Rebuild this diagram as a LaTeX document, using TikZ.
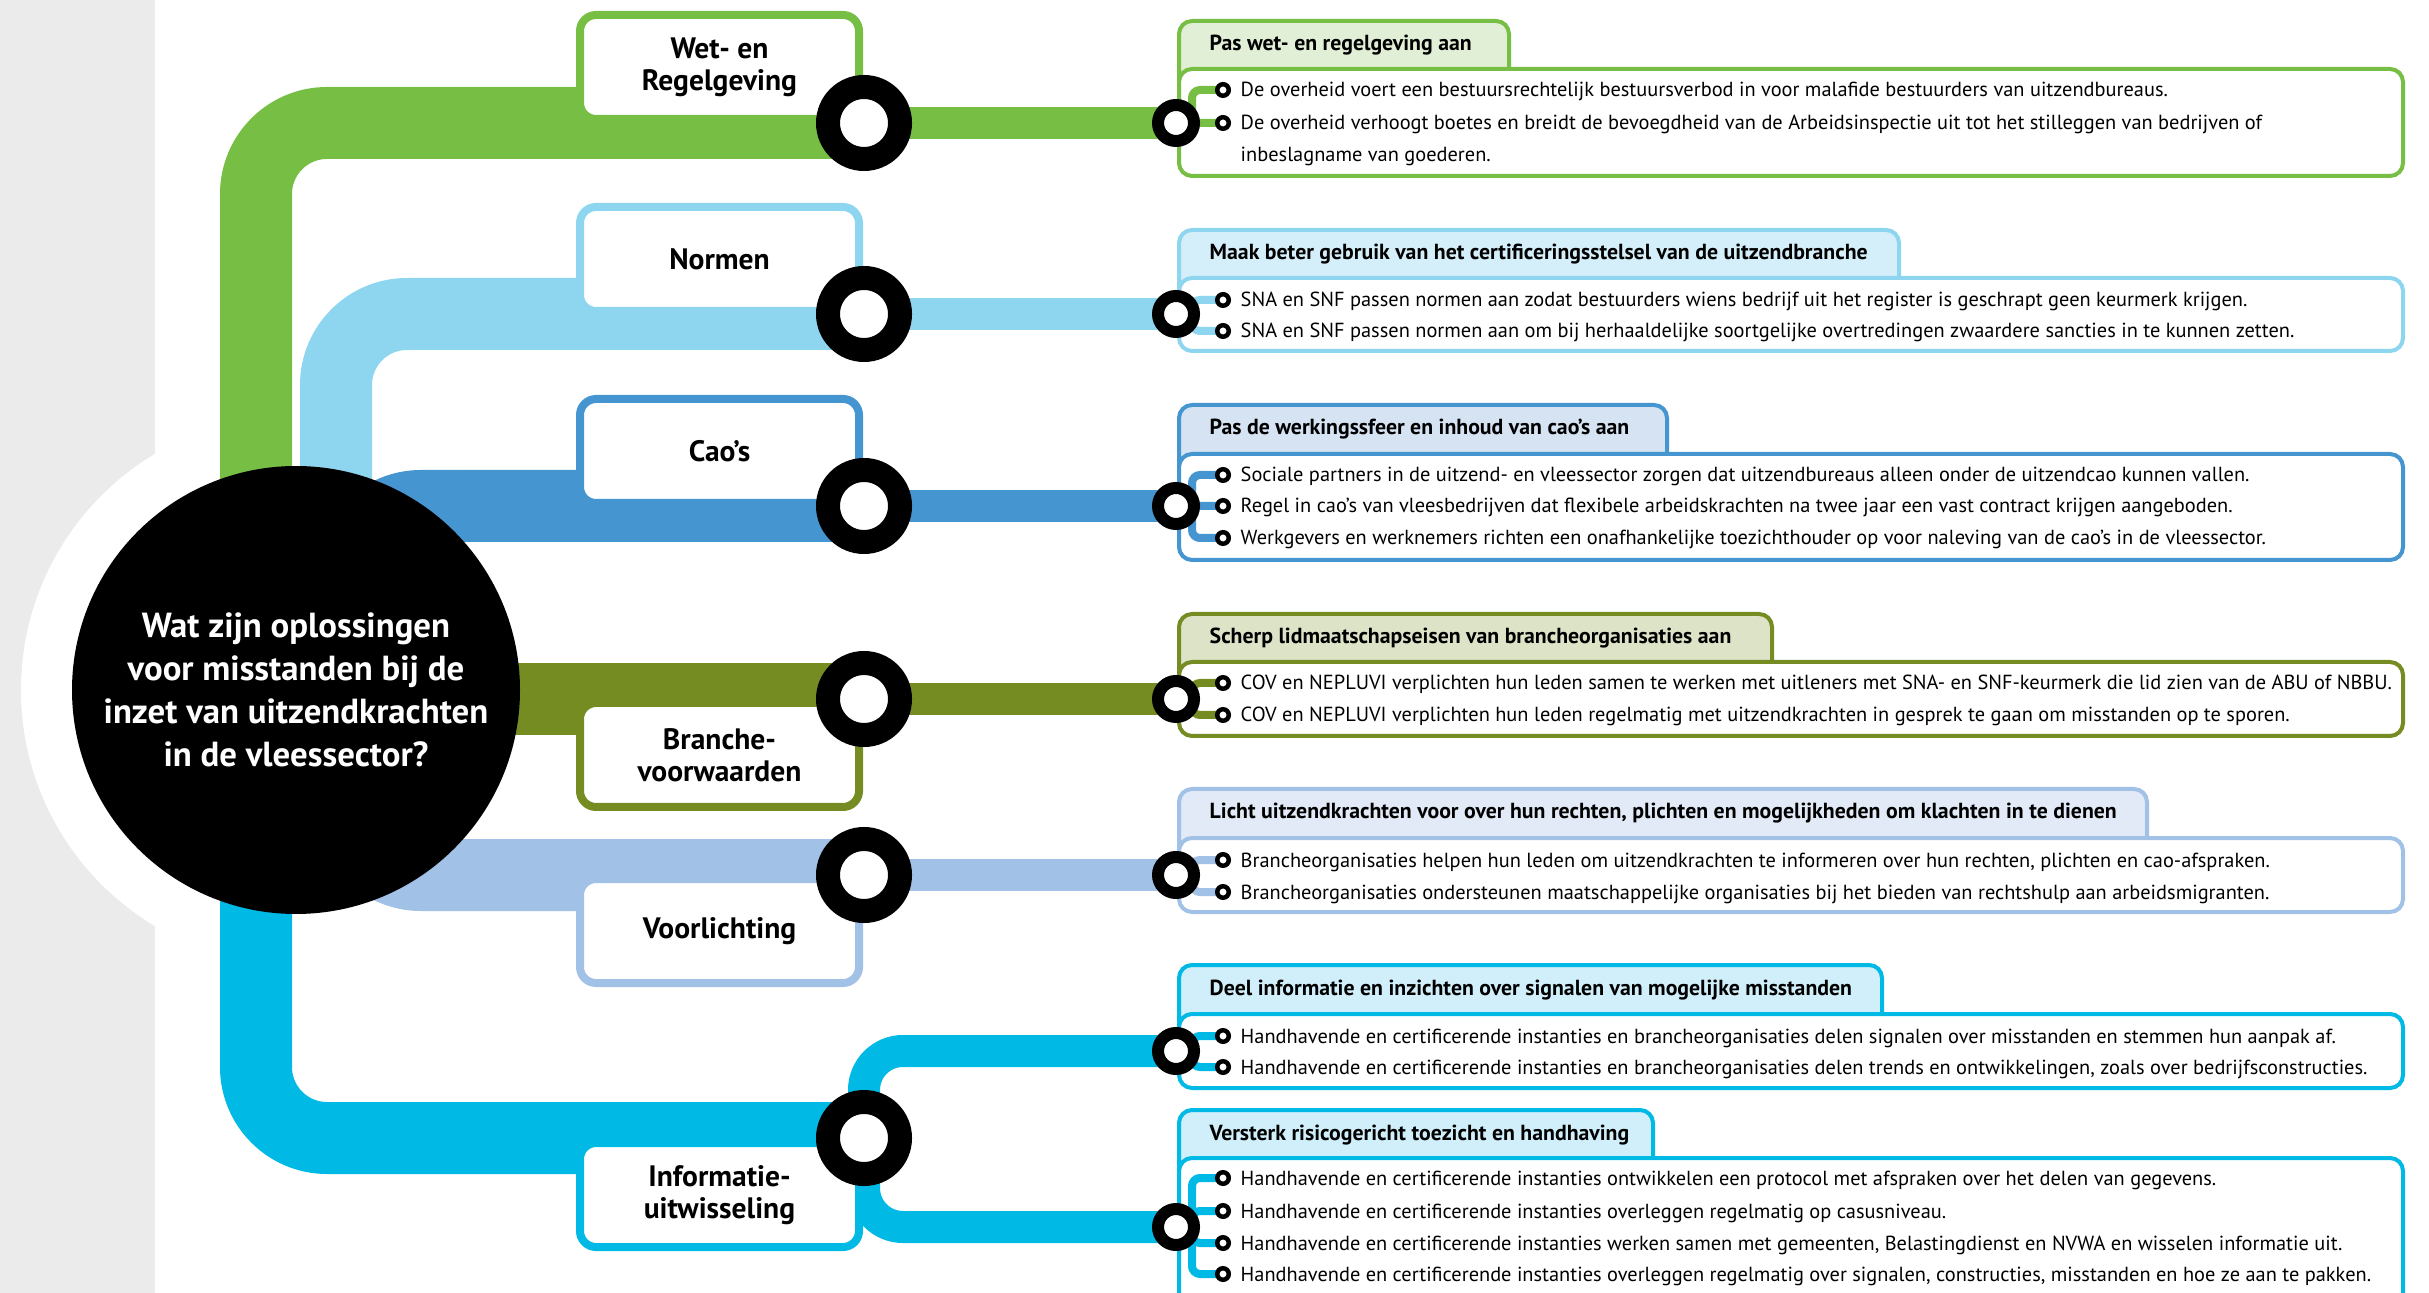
\documentclass[tikz,border=0pt]{standalone}
\usepackage{fontspec}
\setmainfont{PT Sans}
\usetikzlibrary{arrows.meta}
\pgfdeclarelayer{back}
\pgfdeclarelayer{bands}
\pgfsetlayers{back,bands,main}
\definecolor{grijs}{HTML}{EBEBEB}
\definecolor{wetc}{HTML}{77BE44}
\definecolor{normc}{HTML}{8ED6F0}
\definecolor{caoc}{HTML}{4595D1}
\definecolor{branc}{HTML}{748C22}
\definecolor{voorc}{HTML}{A1C1E6}
\definecolor{infoc}{HTML}{00B9E5}
\definecolor{wett}{HTML}{E1EFD6}
\definecolor{normt}{HTML}{D4EFFA}
\definecolor{caot}{HTML}{D5E3F3}
\definecolor{brant}{HTML}{DDE3C7}
\definecolor{voort}{HTML}{E1EAF6}
\definecolor{infot}{HTML}{D0EFFA}
\newcommand{\detailbox}[6]{
    \draw[line width=0.4mm, draw=#1, fill=#2, rounded corners=1.3mm] (1179,#5+30) -- (1179,#3+2) -- (#4-2,#3+2) -- (#4-2,#5+30);
    \draw[line width=0.4mm, draw=#1, fill=white, rounded corners=1.3mm] (1179,#5+2) rectangle (2403,#6-2);
}
\tikzset{
    band/.style={draw=#1, line width=7.2mm, rounded corners=7.1mm},
    feeder/.style={draw=#1, line width=3.2mm, rounded corners=3.9mm},
    twig/.style={draw=#1, line width=0.8mm, rounded corners=0.8mm},
    labelbox/.style={draw=#1, fill=white, line width=0.8mm, rounded corners=1.6mm, minimum width=27.9mm, minimum height=10.4mm, align=center, font=\bfseries\fontsize{8.4}{9.2}\selectfont},
    bigring/.style={circle, draw=black, fill=white, line width=2.4mm, minimum size=7.2mm, inner sep=0pt},
    smallring/.style={circle, draw=black, fill=white, line width=1.2mm, minimum size=3.6mm, inner sep=0pt},
    dot/.style={circle, draw=black, fill=white, line width=0.45mm, minimum size=1.15mm, inner sep=0pt},
    item/.style={anchor=base west, inner sep=0pt, font=\fontsize{5.8}{8.8}\selectfont},
    head/.style={anchor=base west, inner sep=0pt, font=\bfseries\fontsize{6.2}{8.8}\selectfont}
}

\begin{document}
\begin{tikzpicture}[x=0.1mm, y=-0.1mm]
\useasboundingbox (0,0) rectangle (2429,1293);
% centre
\node[circle, fill=black, minimum size=44.8mm, inner sep=0pt, align=center, text=white, font=\bfseries\fontsize{9.9}{12.2}\selectfont] (q) at (296,690) {Wat zijn oplossingen\\voor misstanden bij de\\inzet van uitzendkrachten\\in de vleessector?};
\begin{pgfonlayer}{back}
    \fill[grijs] (0,0) rectangle (155,1293);
    \fill[white] (q.center) circle (27.5mm);
\end{pgfonlayer}

% themes
\node[labelbox=wetc] (L1) at (719.5,67) {Wet- en\\Regelgeving};
\node[labelbox=normc] (L2) at (719.5,259) {Normen};
\node[labelbox=caoc] (L3) at (719.5,451) {Cao’s};
\node[labelbox=branc] (L4) at (719.5,755) {Branche-\\voorwaarden};
\node[labelbox=voorc] (L5) at (719.5,931) {Voorlichting};
\node[labelbox=infoc] (L6) at (719.5,1195) {Informatie-\\uitwisseling};

\node[bigring] (R1) at (864,123) {};
\node[bigring] (R2) at (864,314) {};
\node[bigring] (R3) at (864,506) {};
\node[bigring] (R4) at (864,699) {};
\node[bigring] (R5) at (864,875) {};
\node[bigring] (R6) at (864,1138) {};

\node[smallring] (S1) at (1176,123) {};
\node[smallring] (S2) at (1176,314) {};
\node[smallring] (S3) at (1176,506) {};
\node[smallring] (S4) at (1176,699) {};
\node[smallring] (S5) at (1176,875) {};
\node[smallring] (S6) at (1176,1051) {};
\node[smallring] (S7) at (1176,1227) {};

\begin{pgfonlayer}{bands}
    \draw[band=wetc] ([xshift=-4mm]q.center) |- (R1.center);
    \draw[band=normc] ([xshift=4mm]q.center) |- (R2.center);
    \draw[band=caoc] ([xshift=5.4mm]q.center) |- (R3.center);
    \draw[band=branc] (q.center |- R4.center) -- (R4.center);
    \draw[band=voorc] ([xshift=5.4mm]q.center) |- (R5.center);
    \draw[band=infoc] ([xshift=-4mm]q.center) |- (R6.center);
    \draw[feeder=wetc] (R1.center) -- (S1.center);
    \draw[feeder=normc] (R2.center) -- (S2.center);
    \draw[feeder=caoc] (R3.center) -- (S3.center);
    \draw[feeder=branc] (R4.center) -- (S4.center);
    \draw[feeder=voorc] (R5.center) -- (S5.center);
    \draw[feeder=infoc] (R6.center) |- (S6.center);
    \draw[feeder=infoc] (R6.center) |- (S7.center);
    \detailbox{wetc}{wett}{19}{1511}{67}{178}
    \detailbox{normc}{normt}{228}{1901}{276}{353}
    \detailbox{caoc}{caot}{403}{1669}{452}{562}
    \detailbox{branc}{brant}{612}{1774}{660}{738}
    \detailbox{voorc}{voort}{787}{2149}{836}{914}
    \detailbox{infoc}{infot}{963}{1884}{1012}{1090}
    \detailbox{infoc}{infot}{1108}{1655}{1156}{1320}
\end{pgfonlayer}

% measures
\node[head] (h1) at (1209,51) {Pas wet- en regelgeving aan};
\foreach \y/\t[count=\i] in {90/{De overheid voert een bestuursrechtelijk bestuursverbod in voor malafide bestuurders van uitzendbureaus.},
    123/{De overheid verhoogt boetes en breidt de bevoegdheid van de Arbeidsinspectie uit tot het stilleggen van bedrijven of}}{
    \node[dot] (b1\i) at (1223,\y) {};
    \node[item] (t1\i) at (1240,\y+7) {\t};
    \begin{pgfonlayer}{bands}
        \draw[twig=wetc] (S1.center) -- ++(16,0) |- (b1\i.center);
    \end{pgfonlayer}
}
\node[item] (t1x) at (1240,162) {inbeslagname van goederen.};

\node[head] (h2) at (1209,260) {Maak beter gebruik van het certificeringsstelsel van de uitzendbranche};
\foreach \y/\t[count=\i] in {300/{SNA en SNF passen normen aan zodat bestuurders wiens bedrijf uit het register is geschrapt geen keurmerk krijgen.},
    331/{SNA en SNF passen normen aan om bij herhaaldelijke soortgelijke overtredingen zwaardere sancties in te kunnen zetten.}}{
    \node[dot] (b2\i) at (1223,\y) {};
    \node[item] (t2\i) at (1240,\y+7) {\t};
    \begin{pgfonlayer}{bands}
        \draw[twig=normc] (S2.center) -- ++(16,0) |- (b2\i.center);
    \end{pgfonlayer}
}

\node[head] (h3) at (1209,435) {Pas de werkingssfeer en inhoud van cao’s aan};
\foreach \y/\t[count=\i] in {475/{Sociale partners in de uitzend- en vleessector zorgen dat uitzendbureaus alleen onder de uitzendcao kunnen vallen.},
    506/{Regel in cao’s van vleesbedrijven dat flexibele arbeidskrachten na twee jaar een vast contract krijgen aangeboden.},
    538/{Werkgevers en werknemers richten een onafhankelijke toezichthouder op voor naleving van de cao’s in de vleessector.}}{
    \node[dot] (b3\i) at (1223,\y) {};
    \node[item] (t3\i) at (1240,\y+7) {\t};
    \begin{pgfonlayer}{bands}
        \draw[twig=caoc] (S3.center) -- ++(16,0) |- (b3\i.center);
    \end{pgfonlayer}
}

\node[head] (h4) at (1209,644) {Scherp lidmaatschapseisen van brancheorganisaties aan};
\foreach \y/\t[count=\i] in {683/{COV en NEPLUVI verplichten hun leden samen te werken met uitleners met SNA- en SNF-keurmerk die lid zien van de ABU of NBBU.},
    715/{COV en NEPLUVI verplichten hun leden regelmatig met uitzendkrachten in gesprek te gaan om misstanden op te sporen.}}{
    \node[dot] (b4\i) at (1223,\y) {};
    \node[item] (t4\i) at (1240,\y+7) {\t};
    \begin{pgfonlayer}{bands}
        \draw[twig=branc] (S4.center) -- ++(16,0) |- (b4\i.center);
    \end{pgfonlayer}
}

\node[head] (h5) at (1209,819) {Licht uitzendkrachten voor over hun rechten, plichten en mogelijkheden om klachten in te dienen};
\foreach \y/\t[count=\i] in {860/{Brancheorganisaties helpen hun leden om uitzendkrachten te informeren over hun rechten, plichten en cao-afspraken.},
    892/{Brancheorganisaties ondersteunen maatschappelijke organisaties bij het bieden van rechtshulp aan arbeidsmigranten.}}{
    \node[dot] (b5\i) at (1223,\y) {};
    \node[item] (t5\i) at (1240,\y+7) {\t};
    \begin{pgfonlayer}{bands}
        \draw[twig=voorc] (S5.center) -- ++(16,0) |- (b5\i.center);
    \end{pgfonlayer}
}

\node[head] (h6) at (1209,995) {Deel informatie en inzichten over signalen van mogelijke misstanden};
\foreach \y/\t[count=\i] in {1036/{Handhavende en certificerende instanties en brancheorganisaties delen signalen over misstanden en stemmen hun aanpak af.},
    1067/{Handhavende en certificerende instanties en brancheorganisaties delen trends en ontwikkelingen, zoals over bedrijfsconstructies.}}{
    \node[dot] (b6\i) at (1223,\y) {};
    \node[item] (t6\i) at (1240,\y+7) {\t};
    \begin{pgfonlayer}{bands}
        \draw[twig=infoc] (S6.center) -- ++(16,0) |- (b6\i.center);
    \end{pgfonlayer}
}

\node[head] (h7) at (1209,1140) {Versterk risicogericht toezicht en handhaving};
\foreach \y/\t[count=\i] in {1178/{Handhavende en certificerende instanties ontwikkelen een protocol met afspraken over het delen van gegevens.},
    1211/{Handhavende en certificerende instanties overleggen regelmatig op casusniveau.},
    1243/{Handhavende en certificerende instanties werken samen met gemeenten, Belastingdienst en NVWA en wisselen informatie uit.},
    1274/{Handhavende en certificerende instanties overleggen regelmatig over signalen, constructies, misstanden en hoe ze aan te pakken.}}{
    \node[dot] (b7\i) at (1223,\y) {};
    \node[item] (t7\i) at (1240,\y+7) {\t};
    \begin{pgfonlayer}{bands}
        \draw[twig=infoc] (S7.center) -- ++(16,0) |- (b7\i.center);
    \end{pgfonlayer}
}
\end{tikzpicture}
\end{document}
